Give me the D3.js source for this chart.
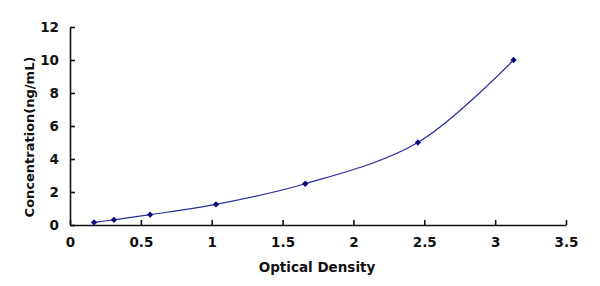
<!DOCTYPE html>
<html>
<head>
<meta charset="utf-8">
<script src="https://cdn.jsdelivr.net/npm/d3@7"></script>
<style>
  body { margin: 0; background: #fff; }
  text { font-family: "DejaVu Sans", sans-serif; font-weight: bold; fill: #111; }
</style>
</head>
<body>
<svg width="600" height="286"></svg>
<script>
var od = [0.17, 0.31, 0.565, 1.03, 1.66, 2.455, 3.13]
var conc = [0.156, 0.312, 0.625, 1.25, 2.5, 5, 10]
var xTicks = [0, 0.5, 1, 1.5, 2, 2.5, 3, 3.5]
var yTicks = [0, 2, 4, 6, 8, 10, 12]

var svg = d3.select("svg")

var scX = d3.scaleLinear().domain([0, 3.5]).range([70, 566])
var scY = d3.scaleLinear().domain([0, 12]).range([225, 27])

var pts = od.map((x, i) => ({x: x, y: conc[i]}))

// x axis, ticks pointing up
var xAxis = d3.axisBottom(scX).tickValues(xTicks)
  .tickFormat(d3.format("")).tickSizeInner(-5).tickSizeOuter(0).tickPadding(12)
var gx = svg.append("g").attr("transform", "translate(0," + scY(0) + ")").call(xAxis)
gx.select(".domain").attr("stroke", "#111").attr("stroke-width", 1.6)
gx.selectAll(".tick line").attr("stroke", "#111").attr("stroke-width", 1.6)
gx.selectAll("text").style("font-size", "13.5px")

// y axis, ticks pointing right
var yAxis = d3.axisLeft(scY).tickValues(yTicks)
  .tickSizeInner(-5).tickSizeOuter(0).tickPadding(11)
var gy = svg.append("g").attr("transform", "translate(" + scX(0) + ",0)").call(yAxis)
gy.select(".domain").attr("stroke", "#111").attr("stroke-width", 1.6)
gy.selectAll(".tick line").attr("stroke", "#111").attr("stroke-width", 1.6)
gy.selectAll("text").style("font-size", "13.5px")

// smooth curve through the standards
var line = d3.line().x(d => scX(d.x)).y(d => scY(d.y)).curve(d3.curveCatmullRom.alpha(0.5))
svg.append("path").attr("d", line(pts))
  .attr("fill", "none").attr("stroke", "#2b2ba0").attr("stroke-width", 1.2)

// diamond markers (square turned 45deg)
svg.append("g").selectAll("path").data(pts).enter().append("path")
  .attr("d", d3.symbol().type(d3.symbolSquare).size(20))
  .attr("transform", d => "translate(" + scX(d.x) + "," + scY(d.y) + ") rotate(45)")
  .attr("fill", "#0a0a78")

// axis titles
svg.append("text").attr("x", 317).attr("y", 272).attr("text-anchor", "middle")
  .style("font-size", "13.5px").text("Optical Density")
svg.append("text").attr("transform", "translate(34,137) rotate(-90)")
  .attr("text-anchor", "middle").style("font-size", "13px").text("Concentration(ng/mL)")
</script>
</body>
</html>
